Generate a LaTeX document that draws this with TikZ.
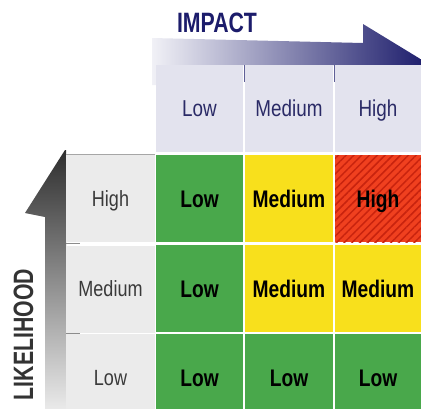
\documentclass[tikz,border=0pt]{standalone}
\usepackage{fontspec}
\setmainfont{Liberation Sans}
\newfontfamily\regfont[FakeStretch=0.82]{Liberation Sans}
\newfontfamily\boldfont[FakeStretch=0.80]{Liberation Sans Bold}
\newfontfamily\titlefont[FakeStretch=0.76]{Liberation Sans Bold}
\usetikzlibrary{patterns.meta}
\definecolor{cgreen}{HTML}{49A84B}
\definecolor{cyellow}{HTML}{F8E01C}
\definecolor{cred}{HTML}{F0401F}
\definecolor{cstripe}{HTML}{C8230E}
\definecolor{chead}{HTML}{E3E3EE}
\definecolor{cnavy}{HTML}{1C1C6B}
\definecolor{ctxtnavy}{HTML}{2A2A66}
\definecolor{clabel}{HTML}{EBEBEB}
\definecolor{ctxtgray}{HTML}{3A3A3A}
\tikzset{
  cellbox/.style={inner sep=0pt, minimum height=87, text height=17pt, text depth=0pt,
    font=\boldfont\fontsize{24}{24}\selectfont, text=black},
  headbox/.style={inner sep=0pt, fill=chead, minimum height=87, text height=16pt, text depth=0pt,
    font=\regfont\fontsize{23}{23}\selectfont, text=ctxtnavy},
  labelbox/.style={inner sep=0pt, fill=clabel, minimum width=89, minimum height=87, text height=15.5pt, text depth=0pt,
    font=\regfont\fontsize{22}{22}\selectfont, text=ctxtgray},
  titletext/.style={inner sep=0pt, text height=20pt, text depth=0pt,
    font=\titlefont\fontsize{28}{28}\selectfont}
}
\begin{document}
\begin{tikzpicture}[x=1pt,y=-1pt]
\useasboundingbox (0,0) rectangle (421,408);
% top arrow
\shade[left color=chead!50!white, middle color=cnavy!38!chead, right color=cnavy]
  (152,38) -- (363,43) -- (363,24) -- (427,63) -- (427,65) -- (156,65) -- (156,85) -- (152,85) -- cycle;
\node[titletext, text=cnavy] (impact) at (217,22) {IMPACT};
% left arrow
\shade[top color=black!82, bottom color=black!8]
  (65,150) -- (25,213) -- (45,217) -- (45,410) -- (66,410) -- (66,150) -- cycle;
\node[titletext, text=black!80, rotate=90] (likelihood) at (23,334.5) {LIKELIHOOD};
% header row
\node[headbox, minimum width=87] (hLow) at (199.5,108.5) {Low};
\node[headbox, minimum width=88] (hMed) at (289,108.5) {Medium};
\node[headbox, minimum width=86] (hHigh) at (378,108.5) {High};
\draw[cnavy!70, line width=0.8pt] (hLow.north east) ++(1,0) -- ++(0,17);
\draw[cnavy!70, line width=0.8pt] (hMed.north east) ++(1,0) -- ++(0,17);
% row labels
\node[labelbox] (rHigh) at (110.5,198.5) {High};
\node[labelbox] (rMed) at (110.5,289) {Medium};
\node[labelbox, minimum height=87] (rLow) at (110.5,377.5) {Low};
\draw[black!35, line width=0.8pt] (rHigh.north west) -- (rHigh.north east);
\draw[black!45, line width=0.8pt] (rHigh.south west) ++(0,1.5) -- ++(14,0);
\draw[black!45, line width=0.8pt] (rMed.south west) ++(0,1) -- ++(14,0);
% cells
\node[cellbox, fill=cgreen, minimum width=87] (c11) at (199.5,198.5) {Low};
\node[cellbox, fill=cyellow, minimum width=88] (c12) at (289,198.5) {Medium};
\node[cellbox, preaction={fill=cred}, pattern={Lines[angle=45,distance=5.5pt,line width=1.5pt]}, pattern color=cstripe, minimum width=86] (c13) at (378,198.5) {High};
\node[cellbox, fill=cgreen, minimum width=87] (c21) at (199.5,288.5) {Low};
\node[cellbox, fill=cyellow, minimum width=88] (c22) at (289,288.5) {Medium};
\node[cellbox, fill=cyellow, minimum width=86] (c23) at (378,288.5) {Medium};
\node[cellbox, fill=cgreen, minimum width=87] (c31) at (199.5,377.5) {Low};
\node[cellbox, fill=cgreen, minimum width=88] (c32) at (289,377.5) {Low};
\node[cellbox, fill=cgreen, minimum width=86] (c33) at (378,377.5) {Low};
\end{tikzpicture}
\end{document}
